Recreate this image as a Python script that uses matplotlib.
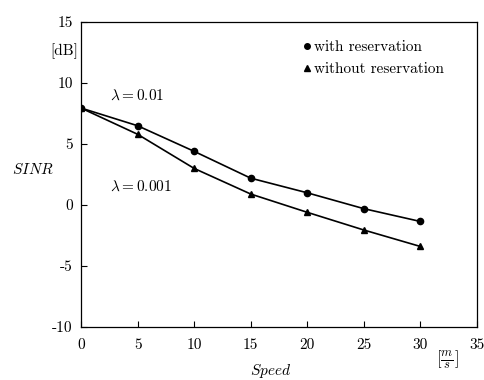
import matplotlib
matplotlib.use("Agg")
import matplotlib.pyplot as plt

# -------------------------------------------------
# Data
# -------------------------------------------------
speed = [0, 5, 10, 15, 20, 25, 30]
sinr_with = [7.95, 6.5, 4.4, 2.2, 1.0, -0.3, -1.35]
sinr_without = [7.95, 5.8, 3.0, 0.9, -0.6, -2.05, -3.4]
x_ticks = [0, 5, 10, 15, 20, 25, 30, 35]
y_ticks = [-10, -5, 0, 5, 10, 15]
y_tick_labels = ["-10", "-5", "0", "5", "10", "15"]

plt.rcParams["font.family"] = "cmr10"
plt.rcParams["mathtext.fontset"] = "cm"
plt.rcParams["axes.unicode_minus"] = False
plt.rcParams["font.size"] = 11


def main():
    fig = plt.figure(figsize=(4.85, 3.8), dpi=100)
    ax = fig.add_axes([0.167, 0.1395, 0.8165, 0.8025])

    ax.plot(speed, sinr_with, color="black", lw=1.2, marker="o", ms=4.5)
    ax.plot(speed, sinr_without, color="black", lw=1.2, marker="^", ms=4.5)

    ax.set_xlim(0, 35)
    ax.set_ylim(-10, 15)
    ax.set_xticks(x_ticks)
    ax.set_xticklabels([str(t) for t in x_ticks])
    ax.set_yticks(y_ticks)
    ax.set_yticklabels(y_tick_labels)
    ax.tick_params(direction="in", length=4, width=0.8, pad=6)
    ax.tick_params(axis="x", pad=8)
    for s in ax.spines.values():
        s.set_linewidth(0.9)

    # legend: markers only
    ax.plot([], [], ls="none", color="black", marker="o", ms=4,
            label="with reservation")
    ax.plot([], [], ls="none", color="black", marker="^", ms=4,
            label="without reservation")
    handles, labels = ax.get_legend_handles_labels()
    ax.legend(handles, labels, loc="upper left", bbox_to_anchor=(0.55, 0.96),
              frameon=False, handlelength=0.3, handletextpad=0.3,
              labelspacing=0.55, borderaxespad=0, fontsize=11)

    # annotations
    ax.text(2.6, 8.65, r"$\lambda = 0.01$", fontsize=11)
    ax.text(2.6, 1.2, r"$\lambda = 0.001$", fontsize=11)
    fig.text(0.162, 0.866, "[dB]", ha="right", va="center", fontsize=11)
    fig.text(0.025, 0.553, r"$SINR$", ha="left", va="center", fontsize=11)
    fig.text(0.557, 0.024, r"$Speed$", ha="center", va="center", fontsize=11)
    fig.text(0.90, 0.055, r"$\left[\frac{m}{s}\right]$", ha="left",
             va="center", fontsize=13)

    fig.savefig("out.png", dpi=100)
    plt.close(fig)


if __name__ == "__main__":
    main()
